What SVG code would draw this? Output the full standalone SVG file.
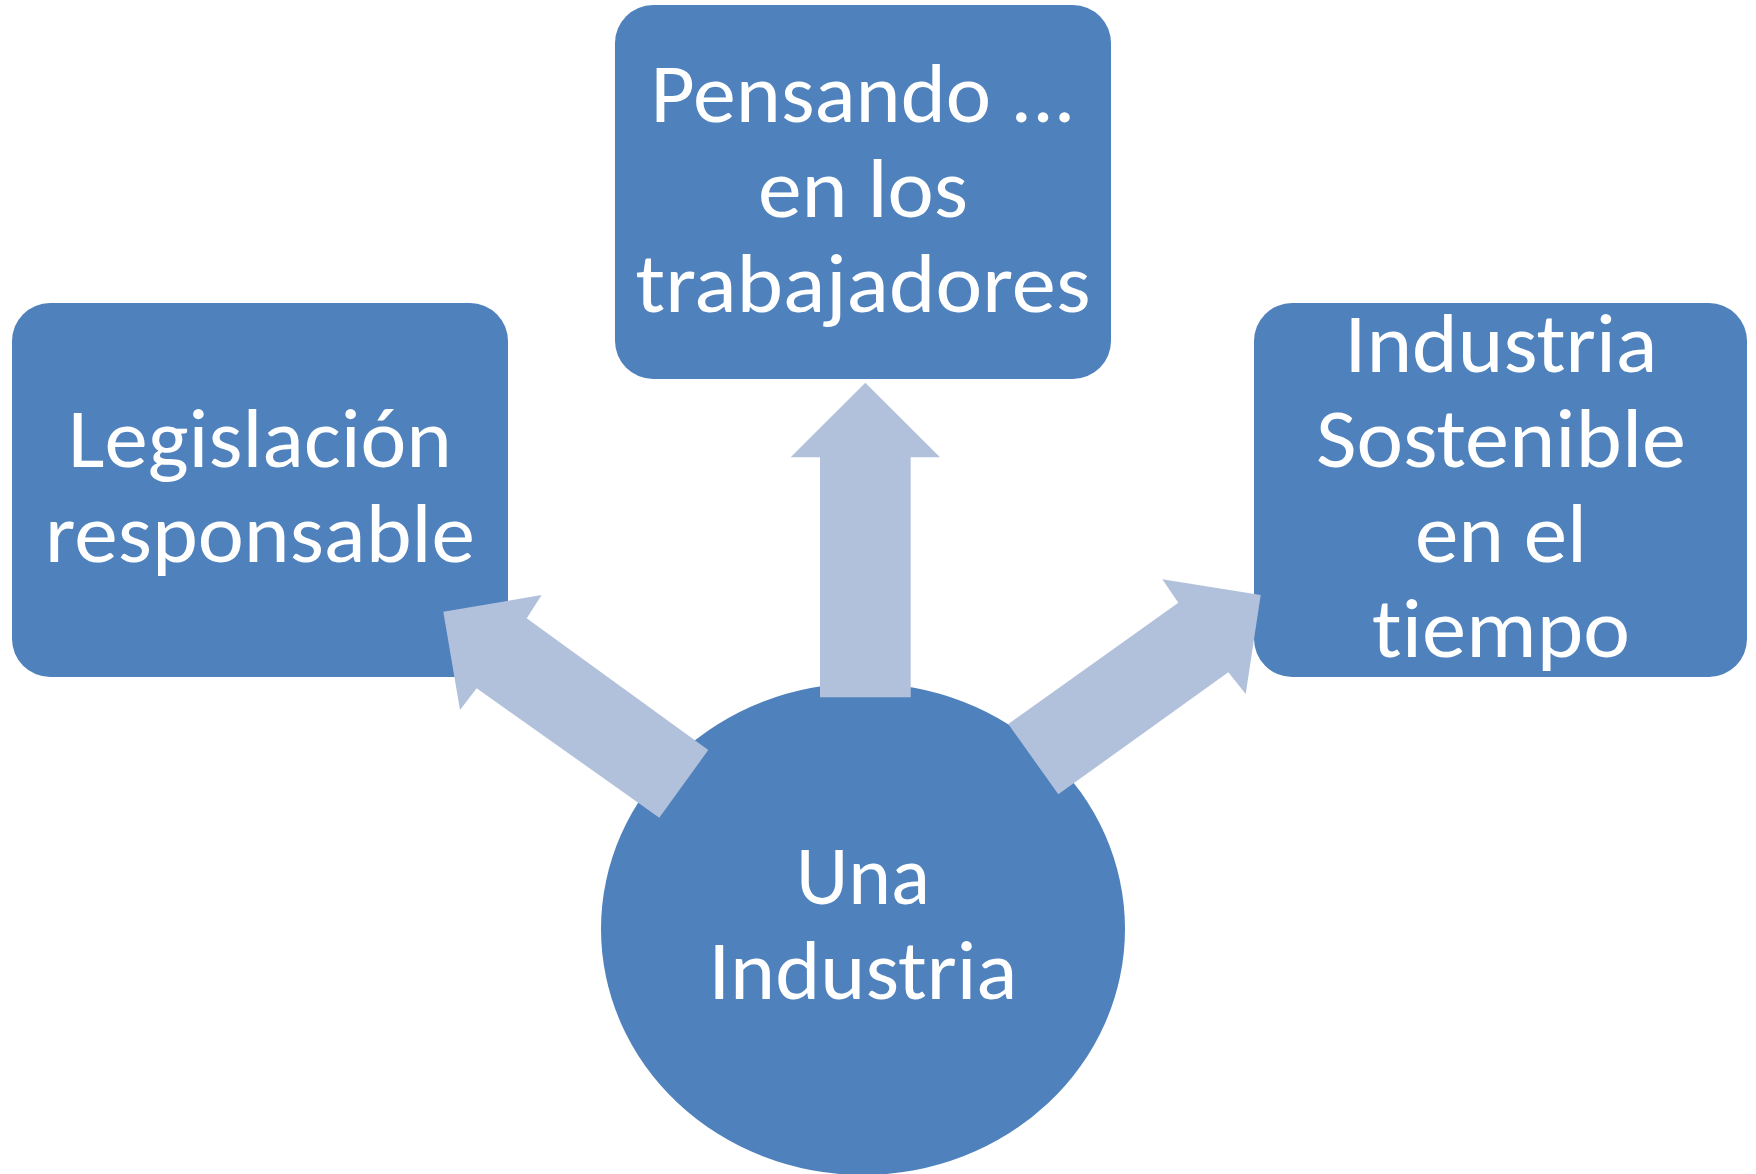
<svg xmlns="http://www.w3.org/2000/svg" width="1756" height="1174" viewBox="0 0 1756 1174">
<style>
.box{fill:#4F81BD}
.arr{fill:#B2C1DB}
.t{font-family:Carlito,Lato,"Open Sans",sans-serif;font-size:84px;fill:#FFFFFF;text-anchor:middle;font-variant-ligatures:none;font-feature-settings:"liga" 0,"clig" 0}
</style>
<rect width="1756" height="1174" fill="#FFFFFF"/>
<g id="node-top">
<rect class="box" x="615" y="5" width="496" height="374" rx="38" ry="38"/>
<text class="t" x="863" y="122" textLength="425" lengthAdjust="spacingAndGlyphs">Pensando ...</text>
<text class="t" x="863" y="217" textLength="210" lengthAdjust="spacingAndGlyphs">en los</text>
<text class="t" x="863" y="312" textLength="455" lengthAdjust="spacingAndGlyphs">trabajadores</text>
</g>
<g id="node-left">
<rect class="box" x="12" y="303" width="496" height="374" rx="38" ry="38"/>
<text class="t" x="260" y="467" textLength="384" lengthAdjust="spacingAndGlyphs">Legislación</text>
<text class="t" x="260" y="562" textLength="430" lengthAdjust="spacingAndGlyphs">responsable</text>
</g>
<g id="node-right">
<rect class="box" x="1254" y="303" width="493" height="374" rx="38" ry="38"/>
<text class="t" x="1501" y="372" textLength="313" lengthAdjust="spacingAndGlyphs">Industria</text>
<text class="t" x="1501" y="467" textLength="370" lengthAdjust="spacingAndGlyphs">Sostenible</text>
<text class="t" x="1501" y="562" textLength="172" lengthAdjust="spacingAndGlyphs">en el</text>
<text class="t" x="1501" y="657" textLength="258" lengthAdjust="spacingAndGlyphs">tiempo</text>
</g>
<g id="node-center">
<ellipse class="box" cx="863" cy="929" rx="262" ry="246"/>
<text class="t" x="863" y="904" textLength="134" lengthAdjust="spacingAndGlyphs">Una</text>
<text class="t" x="863" y="999" textLength="309" lengthAdjust="spacingAndGlyphs">Industria</text>
</g>
<g id="connectors">
<polygon class="arr" points="865.3,382.7 940,457.3 910.7,457.3 910.7,697.3 820,697.3 820,457.3 790.7,457.3"/>
<polygon class="arr" points="443.3,611.7 541.7,595 526.7,618.3 708.3,750 659.3,817.7 476.7,688.3 460,710"/>
<polygon class="arr" points="1260.7,595 1245.7,694 1228.3,672.3 1058.3,794.3 1008.3,724 1178.3,602.7 1162.3,579.3"/>
</g>
</svg>
